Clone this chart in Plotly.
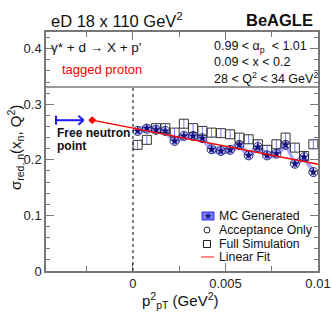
import plotly.graph_objects as go

# ---------------- data ----------------
pt2 = [0.00025 + 0.0005 * i for i in range(20)]
mc_gen = [0.252, 0.257, 0.254, 0.252, 0.234, 0.243, 0.243, 0.239, 0.219, 0.216,
          0.218, 0.227, 0.208, 0.223, 0.208, 0.211, 0.227, 0.193, 0.205, 0.178]
mc_gen_err = [0.007] * 20
acc_only = [0.252, 0.256, 0.254, 0.252, 0.234, 0.243, 0.243, 0.239, 0.219, 0.216,
            0.218, 0.227, 0.208, 0.223, 0.208, 0.211, 0.227, 0.193, 0.205, 0.178]
acc_err = [0.008] * 20
full_sim = [0.227, 0.236, 0.257, 0.257, 0.249, 0.265, 0.257, 0.252, 0.249, 0.248,
            0.246, 0.240, 0.237, 0.228, 0.218, 0.228, 0.240, 0.222, 0.207, 0.228]
full_err = [0.008] * 20
fit_intercept = 0.257
fit_slope = -6.5
free_n_x = -0.0022
free_n_xerr = 0.00018
free_n_yerr = 0.006
fit_x = [free_n_x, 0.01]
fit_y = [fit_intercept + fit_slope * x for x in fit_x]
free_n_y = fit_intercept + fit_slope * free_n_x
arrow_x = [-0.00416, -0.00267]

x_range = [-0.0047, 0.01]
y_range = [0, 0.43]
y_split = 0.331

# ---------------- layout helpers ----------------
W, H = 332, 319
L, R, T, B = 46, 14, 32, 48
PW, PH = W - L - R, H - T - B
def px(xp):
    return (xp - L) / PW
def py(yp):
    return (H - B - yp) / PH

FONT = "Liberation Sans, Arial, Helvetica, sans-serif"
FRAME = "#777777"

fig = go.Figure()

# MC band
band_x = pt2 + pt2[::-1]
band_y = [v + e for v, e in zip(mc_gen, mc_gen_err)] + \
         [v - e for v, e in zip(mc_gen[::-1], mc_gen_err[::-1])]
fig.add_trace(go.Scatter(x=band_x, y=band_y, fill="toself", mode="lines",
                         line=dict(width=0), fillcolor="rgba(100,100,255,0.55)",
                         hoverinfo="skip", showlegend=False))
# Full simulation
fig.add_trace(go.Scatter(x=pt2, y=full_sim, mode="markers",
                         marker=dict(symbol="square-open", size=9, color="#333333",
                                     line=dict(width=1)),
                         error_y=dict(type="data", array=full_err, color="rgba(60,60,255,0.7)",
                                      thickness=1, width=0),
                         showlegend=False))
# Acceptance only
fig.add_trace(go.Scatter(x=pt2, y=acc_only, mode="markers",
                         marker=dict(symbol="circle-open", size=9, color="#2a2a6a",
                                     line=dict(width=1)),
                         error_y=dict(type="data", array=acc_err, color="rgba(60,60,255,0.7)",
                                      thickness=1, width=0),
                         showlegend=False))
# MC generated
fig.add_trace(go.Scatter(x=pt2, y=mc_gen, mode="markers",
                         marker=dict(symbol="star", size=7, color="#12127a",
                                     line=dict(width=0)),
                         showlegend=False))
# Linear fit
fig.add_trace(go.Scatter(x=fit_x, y=fit_y, mode="lines",
                         line=dict(color="#ff0000", width=1.3), showlegend=False))
# Free neutron point
fig.add_trace(go.Scatter(x=[free_n_x], y=[free_n_y], mode="markers",
                         marker=dict(symbol="square", size=4, color="#ff0000"),
                         error_x=dict(type="data", array=[free_n_xerr], color="#ff0000",
                                      thickness=3, width=0),
                         error_y=dict(type="data", array=[free_n_yerr], color="#ff0000",
                                      thickness=3, width=0),
                         showlegend=False))

shapes = []
# dotted line at 0
shapes.append(dict(type="line", xref="x", yref="y", x0=0, x1=0, y0=0, y1=y_split,
                   line=dict(color="black", width=1, dash="dot")))
# separator
shapes.append(dict(type="line", xref="paper", yref="y", x0=0, x1=1, y0=y_split, y1=y_split,
                   line=dict(color=FRAME, width=1.5)))
# arrow
ay = free_n_y
shapes.append(dict(type="line", xref="x", yref="y", x0=arrow_x[0], x1=arrow_x[1], y0=ay, y1=ay,
                   line=dict(color="#1a1aff", width=2)))
shapes.append(dict(type="line", xref="x", yref="y", x0=arrow_x[0], x1=arrow_x[0],
                   y0=ay - 0.008, y1=ay + 0.008, line=dict(color="#1a1aff", width=2)))
shapes.append(dict(type="line", xref="x", yref="y", x0=arrow_x[1] - 0.00028, x1=arrow_x[1],
                   y0=ay + 0.008, y1=ay, line=dict(color="#1a1aff", width=2)))
shapes.append(dict(type="line", xref="x", yref="y", x0=arrow_x[1] - 0.00028, x1=arrow_x[1],
                   y0=ay - 0.008, y1=ay, line=dict(color="#1a1aff", width=2)))

# legend symbols
shapes.append(dict(type="rect", xref="paper", yref="paper", x0=px(202), x1=px(214),
                   y0=py(220), y1=py(212), fillcolor="rgba(120,120,240,1)",
                   line=dict(color="#3030ff", width=1)))
shapes.append(dict(type="circle", xref="paper", yref="paper", x0=px(204), x1=px(210),
                   y0=py(233), y1=py(227), line=dict(color="#222", width=1)))
shapes.append(dict(type="rect", xref="paper", yref="paper", x0=px(203.5), x1=px(210.5),
                   y0=py(247.5), y1=py(240.5), line=dict(color="#222", width=1)))
shapes.append(dict(type="line", xref="paper", yref="paper", x0=px(201), x1=px(214),
                   y0=py(257), y1=py(257), line=dict(color="#ff6060", width=1.5)))

ann = []
def text(x, y, s, size=13, color="#111", xanchor="left", bold=False, angle=0, family=FONT):
    if bold:
        s = "<b>" + s + "</b>"
    ann.append(dict(x=px(x), y=py(y), xref="paper", yref="paper", text=s, showarrow=False,
                    xanchor=xanchor, yanchor="middle", textangle=angle,
                    font=dict(size=size, color=color, family=family)))

text(49, 20, "eD 18 x 110 GeV<sup>2</sup>", size=16.5)
text(315, 20, "BeAGLE", size=16.5, xanchor="right", bold=True)
text(49, 48, "γ* + d → X + p'", size=13.5)
text(60, 69, "tagged proton", size=13, color="#ff0000")
text(212, 47, "0.99 < α<sub>p</sub>  < 1.01", size=12.5)
text(212, 62, "0.09 < x < 0.2", size=12.5)
text(212, 78, "28 < Q<sup>2</sup> < 34 GeV<sup>2</sup>", size=12.5)
text(55, 133, "Free neutron", size=12, bold=True)
text(55, 146, "point", size=12, bold=True)
text(208, 216, "★", size=9, color="#12127a", xanchor="center", family="DejaVu Sans")
text(217, 216, "MC Generated", size=12.3)
text(217, 230, "Acceptance Only", size=12.3)
text(217, 244, "Full Simulation", size=12.3)
text(217, 257, "Linear Fit", size=12.3)
text(180, 300, "p<sup>2</sup><sub>pT</sub> (GeV<sup>2</sup>)", size=15, xanchor="center")
text(15, 148, "σ<sub>red, n</sub>(x<sub>n</sub>, Q<sup>2</sup>)", size=15, xanchor="center", angle=-90)

axis_common = dict(showgrid=False, zeroline=False, showline=True, linecolor=FRAME, linewidth=1.5,
                   mirror="ticks", ticks="inside", tickcolor=FRAME, tickwidth=1,
                   automargin=False,
                   tickfont=dict(size=13, color="#222", family=FONT))

fig.update_layout(
    width=W, height=H, margin=dict(l=L, r=R, t=T, b=B),
    paper_bgcolor="white", plot_bgcolor="white",
    xaxis=dict(range=x_range, tickvals=[0, 0.005, 0.01], ticktext=["0", "0.005", "0.01"],
               ticklen=8,
               minor=dict(tickvals=[-0.0025, 0.0025, 0.0075], ticklen=5, ticks="inside",
                          tickcolor=FRAME),
               **axis_common),
    yaxis=dict(range=y_range, tickvals=[0, 0.1, 0.2, 0.3, 0.4],
               ticktext=["0", "0.1", "0.2", "0.3", "0.4"], ticklen=8,
               ticklabelstandoff=0,
               minor=dict(dtick=0.02, tick0=0, ticklen=4, ticks="inside", tickcolor=FRAME),
               **axis_common),
    shapes=shapes, annotations=ann, showlegend=False,
)

fig.write_html("out.html", config={"displayModeBar": False},
               post_script="document.body.style.margin='0';")
